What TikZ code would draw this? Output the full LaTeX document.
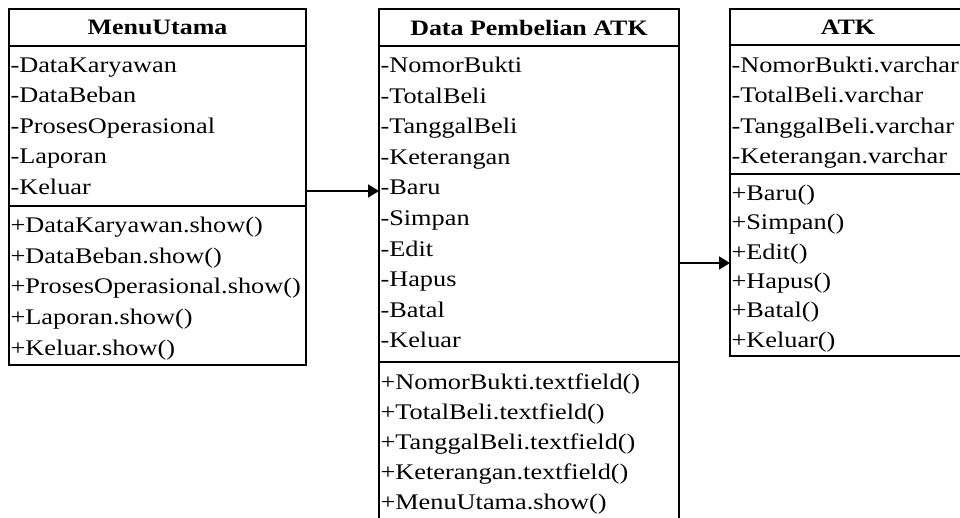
\documentclass[tikz,border=0pt]{standalone}
\usepackage{fontspec}
\setmainfont{Liberation Serif}[FakeStretch=1.18]
\usetikzlibrary{arrows.meta}
\begin{document}
\begin{tikzpicture}[x=1pt,y=-1pt,
  box/.style={draw=black, line width=1.6pt, rectangle, inner sep=0pt, outer sep=0pt, anchor=north west},
  hdr/.style={box, font=\fontsize{22}{26}\selectfont\bfseries},
  item/.style={anchor=base west, inner sep=0pt, outer sep=0pt, font=\fontsize{22.3}{26}\selectfont},
  conn/.style={line width=1.6pt, -{Triangle[length=11pt,width=13pt]}}]
\path[use as bounding box, clip] (0,0) rectangle (960,518);

% ---- MenuUtama ----
\node[hdr, minimum width=297pt, minimum height=37pt] (muh) at (9,9) {MenuUtama};
\node[box, minimum width=297pt, minimum height=160pt] (mua) at (9,46) {};
\node[box, minimum width=297pt, minimum height=159pt] (mum) at (9,206) {};
\foreach \t [count=\i from 0] in {-DataKaryawan,-DataBeban,-ProsesOperasional,-Laporan,-Keluar}
  \node[item] (mua\i) at (10.5,72.5+\i*30.5) {\t};
\foreach \t [count=\i from 0] in {+DataKaryawan.show(),+DataBeban.show(),+ProsesOperasional.show(),+Laporan.show(),+Keluar.show()}
  \node[item] (mum\i) at (10.5,233+\i*30.5) {\t};

% ---- Data Pembelian ATK ----
\node[hdr, minimum width=300pt, minimum height=37pt] (dph) at (379,9) {Data Pembelian ATK};
\node[box, minimum width=300pt, minimum height=316pt] (dpa) at (379,46) {};
\node[box, minimum width=300pt, minimum height=190pt] (dpm) at (379,362) {};
\foreach \t [count=\i from 0] in {-NomorBukti,-TotalBeli,-TanggalBeli,-Keterangan,-Baru,-Simpan,-Edit,-Hapus,-Batal,-Keluar}
  \node[item] (dpa\i) at (380.5,72.5+\i*30.6) {\t};
\foreach \t [count=\i from 0] in {+NomorBukti.textfield(),+TotalBeli.textfield(),+TanggalBeli.textfield(),+Keterangan.textfield(),+MenuUtama.show()}
  \node[item] (dpm\i) at (380.5,389.5+\i*30) {\t};

% ---- ATK ----
\node[hdr, minimum width=236pt, minimum height=36pt] (atkh) at (730,9) {ATK};
\node[box, minimum width=236pt, minimum height=129pt] (atka) at (730,45) {};
\node[box, minimum width=236pt, minimum height=182pt] (atkm) at (730,174) {};
\foreach \t [count=\i from 0] in {-NomorBukti.varchar,-TotalBeli.varchar,-TanggalBeli.varchar,-Keterangan.varchar}
  \node[item] (atka\i) at (731.5,72.5+\i*30.5) {\t};
\foreach \t [count=\i from 0] in {+Baru(),+Simpan(),+Edit(),+Hapus(),+Batal(),+Keluar()}
  \node[item] (atkm\i) at (731.5,200.5+\i*29.3) {\t};

% ---- connectors ----
\coordinate (ya) at (0,191);
\coordinate (yb) at (0,263);
\draw[conn] (mua.east |- ya) -- (dpa.west |- ya);
\draw[conn] (dpa.east |- yb) -- (atkm.west |- yb);
\end{tikzpicture}
\end{document}
